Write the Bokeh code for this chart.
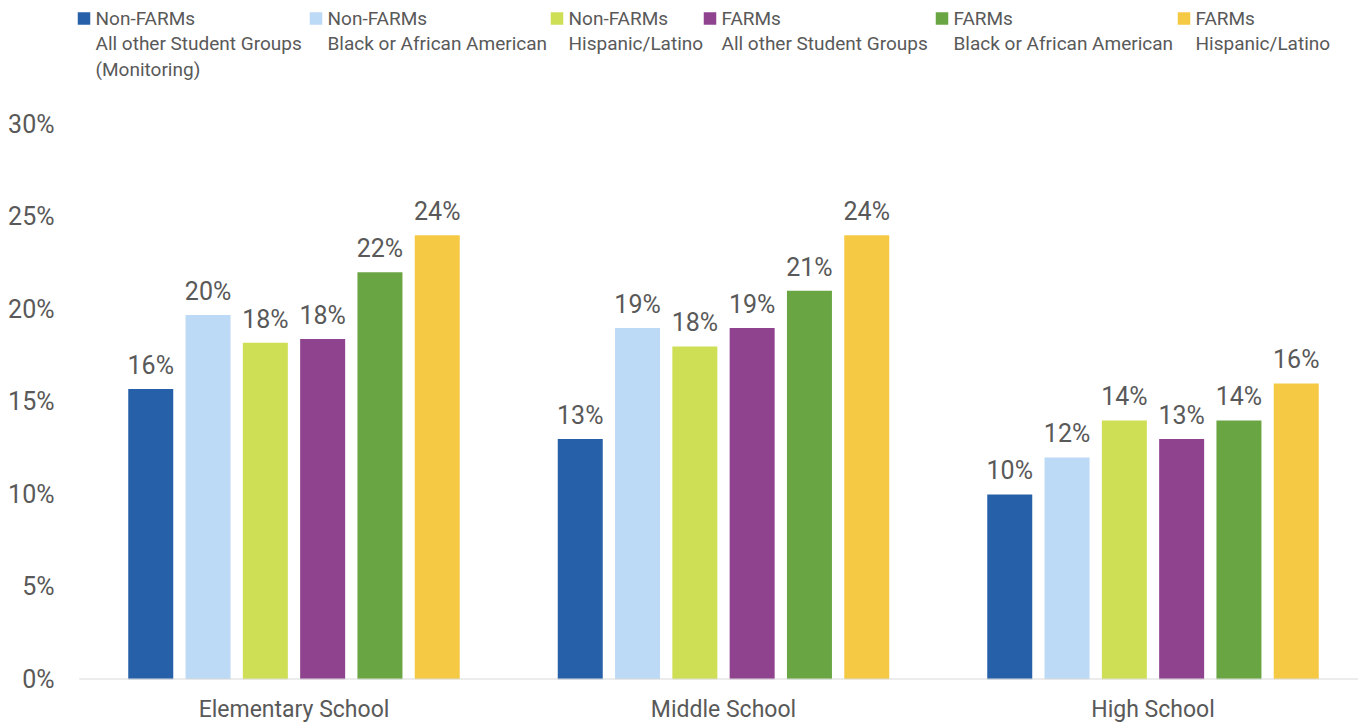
from bokeh.plotting import figure
from bokeh.models import Range1d, FixedTicker, PrintfTickFormatter, ColumnDataSource, LabelSet
from bokeh.core.properties import value
from bokeh.embed import file_html
from bokeh.resources import INLINE

# ---------------- data ----------------
categories = ["Elementary School", "Middle School", "High School"]

series_top = ["Non-FARMs", "Non-FARMs", "Non-FARMs", "FARMs", "FARMs", "FARMs"]
series_sub = [
    ["All other Student Groups", "(Monitoring)"],
    ["Black or African American"],
    ["Hispanic/Latino"],
    ["All other Student Groups"],
    ["Black or African American"],
    ["Hispanic/Latino"],
]

nonfarms_other = [15.7, 13.0, 10.0]
nonfarms_black = [19.7, 19.0, 12.0]
nonfarms_hisp = [18.2, 18.0, 14.0]
farms_other = [18.4, 19.0, 13.0]
farms_black = [22.0, 21.0, 14.0]
farms_hisp = [24.0, 24.0, 16.0]
series_values = [nonfarms_other, nonfarms_black, nonfarms_hisp,
                 farms_other, farms_black, farms_hisp]

y_ticks = [0, 5, 10, 15, 20, 25, 30]

# ---------------- style ----------------
colors = ["#2560A9", "#BCD9F5", "#CEDE55", "#8F438F", "#6AA544", "#F5C944"]
FONT = "Roboto"
TXT = "#595959"

W, H = 1358, 725
FRAME_LEFT = 70          # figure px
FRAME_BOTTOM = 679.5     # figure px
CAT_PX = 429.5           # px per category
CAT0_PX = 78.75          # figure px where category axis value 0 sits
PX_PER_PCT = 18.52

x_start = (FRAME_LEFT - CAT0_PX) / CAT_PX
x_end = (W - CAT0_PX) / CAT_PX
y_end = FRAME_BOTTOM / PX_PER_PCT

p = figure(width=W, height=H, output_backend="svg", toolbar_location=None,
           x_range=Range1d(x_start, x_end), y_range=Range1d(0, y_end),
           min_border_left=FRAME_LEFT, min_border_right=0, min_border_top=0,
           min_border_bottom=int(round(H - FRAME_BOTTOM)))
p.outline_line_color = None
p.grid.visible = False
p.background_fill_color = "white"
p.border_fill_color = "white"

bar_w = 45 / CAT_PX
step = 57.3 / CAT_PX

for j, vals in enumerate(series_values):
    xs = [i + 0.5 + (j - 2.5) * step for i in range(len(categories))]
    src = ColumnDataSource(dict(x=xs, top=vals,
                                lab=[f"{round(v):d}%" for v in vals]))
    p.vbar(x="x", top="top", width=bar_w, bottom=0, source=src,
           fill_color=colors[j], line_color=None)
    p.add_layout(LabelSet(x="x", y="top", text="lab", source=src,
                          y_offset=15, text_align="center",
                          text_baseline="alphabetic",
                          text_font=value(FONT), text_font_size="25px",
                          text_color=TXT))

# baseline of the category axis
p.segment(x0=[0], y0=[0], x1=[len(categories)], y1=[0],
          line_color="#D9D9D9", line_width=2)

# axes
for ax in (p.xaxis, p.yaxis):
    ax.axis_line_color = None
    ax.major_tick_line_color = None
    ax.minor_tick_line_color = None
    ax.major_tick_out = 0
    ax.major_tick_in = 0
    ax.minor_tick_out = 0
    ax.minor_tick_in = 0
    ax.major_label_text_font = FONT
    ax.major_label_text_color = TXT

p.xaxis.ticker = FixedTicker(ticks=[i + 0.5 for i in range(len(categories))])
p.xaxis.major_label_overrides = {i + 0.5: c for i, c in enumerate(categories)}
p.xaxis.major_label_standoff = 16
p.xaxis.major_label_text_font_size = "23px"

p.yaxis.ticker = FixedTicker(ticks=y_ticks)
p.yaxis.formatter = PrintfTickFormatter(format="%d%%")
p.yaxis.major_label_standoff = 16
p.yaxis.major_label_text_font_size = "25px"

# legend (drawn in the frame, positions in page pixels converted to data)
def px2x(px):
    return (px - CAT0_PX) / CAT_PX

def py2y(py):
    return (FRAME_BOTTOM - py) / PX_PER_PCT

legend_text_px = [95, 327, 568, 721, 953, 1195]
LINE_MID = [18, 43, 69]
sq_x, sq_y, sq_c = [], [], []
tx, ty, tt = [], [], []
for j in range(len(series_top)):
    sq_x.append(px2x(legend_text_px[j] - 11.5))
    sq_y.append(py2y(18))
    sq_c.append(colors[j])
    lines = [series_top[j]] + series_sub[j]
    for k, line in enumerate(lines):
        tx.append(px2x(legend_text_px[j]))
        ty.append(py2y(LINE_MID[k]))
        tt.append(line)

p.scatter(x=sq_x, y=sq_y, marker="square", size=12.5, fill_color=sq_c,
          line_color=None)
p.text(x=tx, y=ty, text=tt, text_font=value(FONT), text_font_size="19px",
       text_color=TXT, text_baseline="middle", text_align="left")

open("out.html", "w").write(file_html(p, INLINE))
